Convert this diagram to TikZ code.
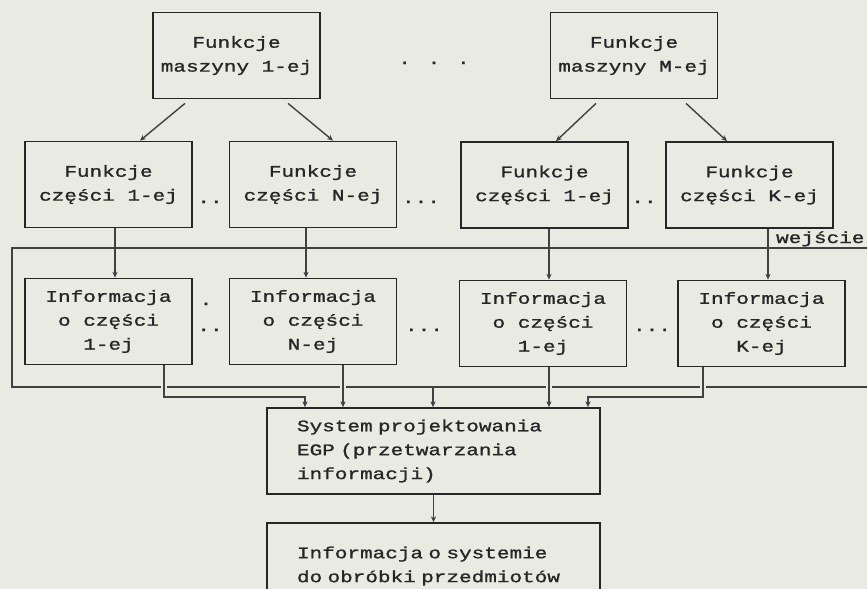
\documentclass[tikz,border=0pt]{standalone}
\usepackage{fontspec}
\newfontfamily\dotfont[FakeStretch=1.3, FakeBold=1.2]{Liberation Mono}
\usetikzlibrary{arrows.meta}
\definecolor{paper}{RGB}{233,235,226}
\definecolor{ink}{RGB}{38,38,38}
\definecolor{wirecol}{RGB}{65,65,65}
\begin{document}
\begin{tikzpicture}[x=0.3mm, y=-0.3mm,
    font=\dotfont\fontsize{13.8}{20.4}\selectfont, text=ink,
    box/.style={draw=ink, line width=1.5pt, minimum width=50.1mm,
      minimum height=25.8mm, align=center, inner sep=0pt},
    wide/.style={box, minimum width=99.9mm, text width=81.9mm, align=left},
    wire/.style={draw=wirecol, line width=1.2pt},
    arr/.style={wire, -{Stealth[length=5pt,width=4.5pt]}},
    over/.style={preaction={draw=paper, line width=5pt, shorten <=3pt, shorten >=3pt}}]
  \useasboundingbox (0,0) rectangle (867,589);
  \fill[paper] (0,0) rectangle (867,589);
  \clip (0,0) rectangle (867,589);

  % maszyny
  \node[box] (m1) at (236.5,55.5) {Funkcje\\maszyny 1-ej};
  \node[box] (mM) at (634,55.5) {Funkcje\\maszyny M-ej};
  \node[anchor=base] (dm) at (434,64) {. . .};

  % funkcje czesci
  \node[box] (f1) at (108.5,184.5) {Funkcje\\części 1-ej};
  \node[box] (fN) at (313,184.5) {Funkcje\\części N-ej};
  \node[box] (fM) at (544.5,185) {Funkcje\\części 1-ej};
  \node[box] (fK) at (749.5,185) {Funkcje\\części K-ej};
  \node[anchor=base] (df1) at (210,203) {..};
  \node[anchor=base] (df2) at (421,203) {...};
  \node[anchor=base] (df3) at (644,203) {..};

  % informacja o czesciach
  \node[box] (i1) at (108.5,321.5) {Informacja\\o części\\1-ej};
  \node[box] (iN) at (313,321.5) {Informacja\\o części\\N-ej};
  \node[box] (iM) at (543,323.5) {Informacja\\o części\\1-ej};
  \node[box] (iK) at (761.5,323.5) {Informacja\\o części\\K-ej};
  \node[anchor=base] (di1) at (206,305) {.};
  \node[anchor=base] (di2) at (210,331) {..};
  \node[anchor=base] (di3) at (424,331) {...};
  \node[anchor=base] (di4) at (652,331) {...};

  % system
  \node[wide] (sys) at (433.5,451) {System projektowania\\EGP (przetwarzania\\informacji)};
  \node[wide] (out) at (433.5,566) {Informacja o systemie\\do obróbki przedmiotów};

  % wejscie
  \coordinate (inR) at (867,248);
  \coordinate (inL) at (12,248);
  \coordinate (loL) at (12,387);
  \coordinate (loR) at (867,387);
  \draw[wire] (inR) -- (inL) -- (loL) -- (loR);
  \node[anchor=base west] (wej) at (772,243) {wejście};

  \draw[arr] ([shift={(-51.5,4)}]m1.south) -- ([shift={(31.5,0)}]f1.north);
  \draw[arr] ([shift={(51.5,4)}]m1.south) -- ([shift={(20,0)}]fN.north);
  \draw[arr] ([shift={(-38,4)}]mM.south) -- ([shift={(11.5,0)}]fM.north);
  \draw[arr] ([shift={(52,4)}]mM.south) -- ([shift={(-22.5,0)}]fK.north);

  \coordinate (a1) at (115,0);
  \coordinate (aN) at (306,0);
  \coordinate (aM) at (549,0);
  \coordinate (aK) at (768,0);
  \draw[arr] (f1.south -| a1) -- (i1.north -| a1);
  \draw[arr] (fN.south -| aN) -- (iN.north -| aN);
  \draw[arr] (fM.south -| aM) -- (iM.north -| aM);
  \draw[arr] (fK.south -| aK) -- (iK.north -| aK);

  \coordinate (b1) at (164,397);
  \coordinate (c1) at (305,397);
  \coordinate (bN) at (343,0);
  \coordinate (bW) at (433,387);
  \coordinate (bM) at (549,0);
  \coordinate (bK) at (703,397);
  \coordinate (cK) at (588,397);
  \draw[arr, over] (i1.south -| b1) -- (b1) -- (c1) -- (sys.north -| c1);
  \draw[arr, over] (iN.south -| bN) -- (sys.north -| bN);
  \draw[arr] (bW) -- (sys.north -| bW);
  \draw[arr, over] (iM.south -| bM) -- (sys.north -| bM);
  \draw[arr, over] (iK.south -| bK) -- (bK) -- (cK) -- (sys.north -| cK);
  \draw[arr] (sys) -- (out);
\end{tikzpicture}
\end{document}
